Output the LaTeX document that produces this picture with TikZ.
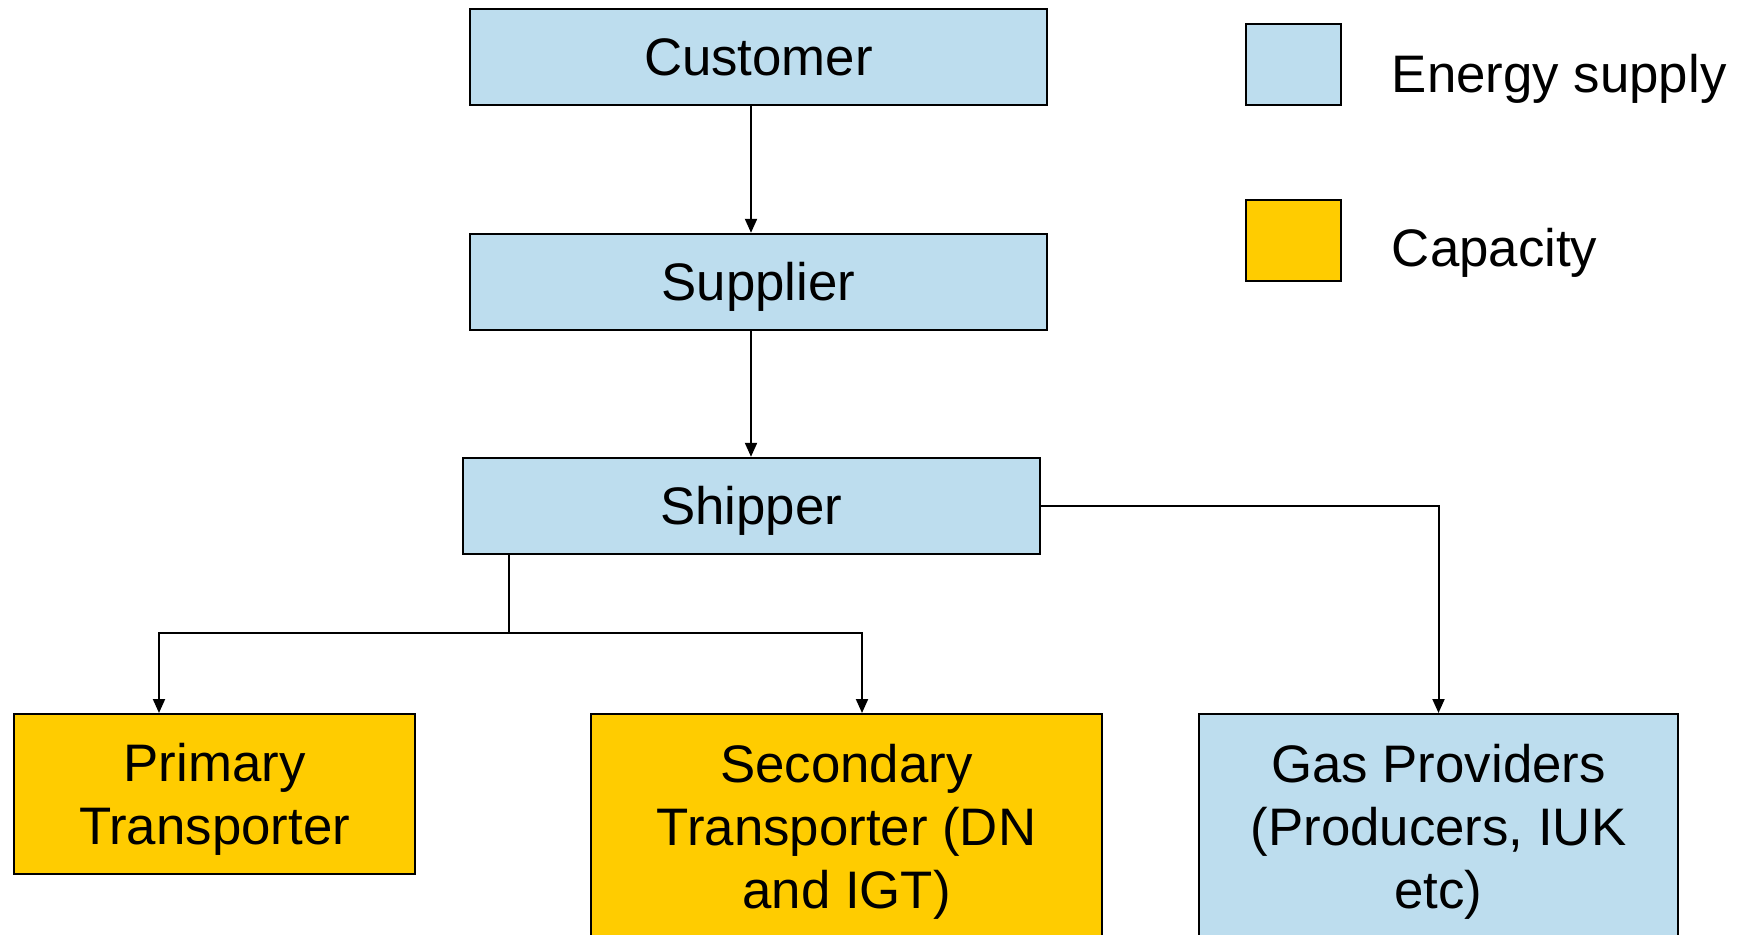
\documentclass[tikz,border=0pt]{standalone}
\usepackage{fontspec}
\setmainfont{Liberation Sans}
\usetikzlibrary{arrows.meta, positioning}
\definecolor{supplyblue}{RGB}{189,221,238}
\definecolor{capyellow}{RGB}{255,204,0}

\begin{document}
\begin{tikzpicture}[node distance=64pt,
 >={Triangle[length=7pt,width=6pt]},
 box/.style={draw, line width=1pt, inner sep=0pt, align=center,
   font=\fontsize{26.4}{31.7}\selectfont},
 supply node/.style={box, fill=supplyblue},
 capacity node/.style={box, fill=capyellow},
 chain node/.style={supply node, minimum width=288.5pt, minimum height=48pt, text depth=0pt},
 link/.style={line width=1pt}]
  \useasboundingbox (0,0) rectangle (872pt,-467.5pt);

  \node[chain node] (1) at (379.25pt,-28.5pt) {Customer};
  \node[chain node] (2) [below=63.4pt of 1] {Supplier};
  \node[chain node] (3) [below=63pt of 2, xshift=-3.75pt] {Shipper};
  \node[capacity node, anchor=north, minimum width=200.5pt, minimum height=80pt] (4) at (107.25pt,-356.5pt) {\rule{0pt}{24.5pt}Primary\\Transporter};
  \node[capacity node, anchor=north, minimum width=255.5pt, minimum height=115pt] (5) at (423.25pt,-356.5pt) {\rule{0pt}{22pt}Secondary\\Transporter (DN\\and IGT)};
  \node[supply node, anchor=north, minimum width=239.5pt, minimum height=115pt] (6) at (719.25pt,-356.5pt) {\rule{0pt}{22pt}Gas Providers\\(Producers, IUK\\etc)};

  % legend
  \node[supply node, minimum width=47.5pt, minimum height=40.5pt] (k1) at (646.75pt,-32.25pt) {};
  \node[capacity node, minimum width=47.5pt, minimum height=40.5pt] (k2) at (646.75pt,-120.5pt) {};
  \node[anchor=base west, inner sep=0pt, font=\fontsize{26.4}{31.7}\selectfont] (t1) at (695.75pt,-46.5pt) {Energy supply};
  \node[anchor=base west, inner sep=0pt, font=\fontsize{26.4}{31.7}\selectfont] (t2) at (695.75pt,-133.5pt) {Capacity};

  \coordinate (j) at ([xshift=23.5pt,yshift=-39pt]3.south west);

  \draw[link, ->] (1.south -| 3) -- (2.north -| 3);
  \draw[link, ->] (2.south -| 3) -- (3.north);
  \draw[link] (3.south -| j) -- (j);
  \draw[link, ->] (j) -| ([xshift=-27.75pt]4.north);
  \draw[link, ->] (j) -| ([xshift=7.75pt]5.north);
  \draw[link, ->] (3.east) -| (6.north);
\end{tikzpicture}
\end{document}
